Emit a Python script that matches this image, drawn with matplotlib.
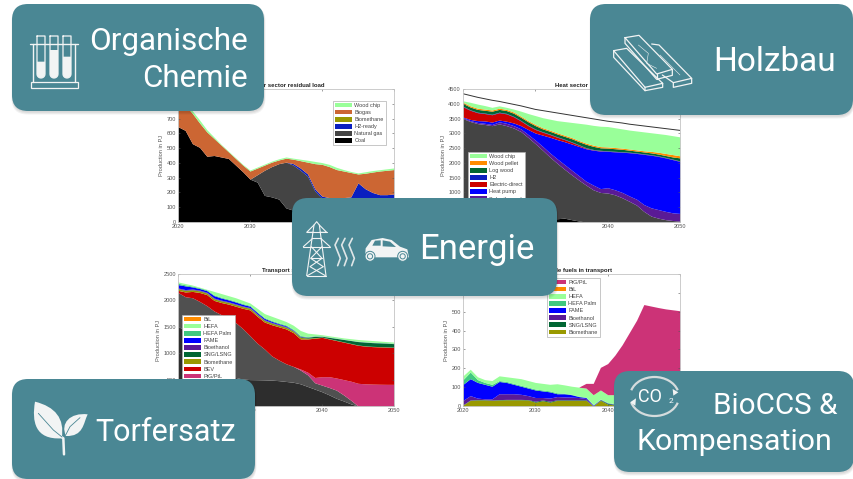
import numpy as np
import matplotlib
matplotlib.use('Agg')
import matplotlib.pyplot as plt
from matplotlib.patches import FancyBboxPatch, Patch, Polygon, Circle, Arc, PathPatch
from matplotlib.path import Path

plt.rcParams['font.family'] = ['Liberation Sans', 'DejaVu Sans']

years = np.arange(2020, 2051)

# power sector, top edge of every stacked layer
pw_coal = [645,620,530,505,445,450,440,430,385,340,290,270,180,170,155,95,80,50,30,10,0,0,0,0,0,0,0,0,0,0,0]
pw_gas = [645,620,530,505,445,450,440,430,385,340,290,320,350,375,395,405,385,350,310,210,160,150,150,150,150,150,150,150,150,150,150]
pw_h2 = [645,620,530,505,445,450,440,430,385,340,290,320,350,375,395,405,395,365,325,225,175,165,165,165,170,265,225,200,185,185,190]
pw_biomethane = pw_h2
pw_biogas = [830,790,735,670,610,565,520,475,430,385,345,365,385,405,420,432,425,415,405,395,390,375,355,345,335,325,330,338,345,350,355]
pw_chip = [840,805,752,690,625,575,525,480,435,390,352,372,392,412,428,440,432,425,418,410,402,390,370,355,342,332,340,348,354,360,366]

# heat sector
ht_coal = [300,290,280,270,260,250,240,230,210,190,170,150,130,110,130,80,35,0,0,0,0,0,0,0,0,0,0,0,0,0,0]
ht_gas = [3500,3400,3330,3300,3260,3320,3260,3180,3060,2860,2650,2430,2200,1990,1790,1600,1420,1250,1090,1000,980,920,820,700,570,360,200,130,80,50,30]
ht_solar = [3530,3430,3370,3340,3300,3390,3340,3260,3150,2960,2770,2560,2340,2140,1950,1760,1570,1380,1250,1130,1160,1090,1000,880,770,590,480,420,360,310,290]
ht_pump = [3550,3470,3430,3420,3380,3450,3410,3350,3260,3130,3010,2940,2870,2790,2720,2640,2560,2480,2430,2400,2390,2375,2360,2345,2320,2290,2260,2220,2170,2110,2050]
ht_electric = [3900,3780,3700,3670,3630,3700,3660,3560,3420,3260,3130,3040,2960,2870,2790,2700,2600,2500,2440,2410,2395,2380,2365,2350,2325,2295,2265,2225,2175,2115,2055]
ht_h2 = [3915,3795,3715,3685,3645,3715,3675,3575,3435,3275,3145,3055,2975,2885,2805,2715,2615,2515,2455,2425,2410,2392,2377,2362,2337,2307,2277,2237,2187,2127,2067]
ht_log = [4010,3890,3810,3780,3750,3810,3770,3680,3540,3390,3260,3150,3070,2980,2900,2820,2720,2630,2560,2510,2500,2480,2460,2430,2400,2370,2340,2300,2250,2200,2170]
ht_pellet = [4050,3930,3850,3820,3790,3850,3810,3720,3580,3430,3300,3190,3110,3020,2940,2860,2760,2670,2600,2550,2540,2520,2500,2470,2440,2410,2390,2360,2320,2280,2240]
ht_chip = [4100,4050,3990,3940,3880,3930,3880,3820,3750,3670,3600,3530,3480,3430,3400,3370,3340,3310,3270,3240,3230,3190,3150,3110,3080,3050,3020,2990,2960,2920,2880]
ht_total = [4340,4280,4220,4170,4120,4080,4030,3980,3930,3870,3810,3770,3730,3690,3650,3610,3570,3530,3490,3450,3410,3380,3350,3310,3280,3250,3220,3190,3160,3130,3100]

# transport sector
tr_dark = [1500,1450,1300,1150,1000,850,700,600,540,510,500,498,495,490,480,465,450,420,370,320,270,210,145,95,40,0,0,0,0,0,0]
tr_gray = [2150,2070,2050,1980,1900,1800,1730,1650,1580,1465,1330,1190,1080,950,870,800,750,680,590,440,395,350,300,210,110,0,0,0,0,0,0]
tr_ptg = [2150,2070,2050,1980,1900,1800,1730,1650,1580,1465,1330,1190,1080,950,870,800,750,700,640,540,555,555,530,500,470,430,420,415,412,410,410]
tr_bev = [2190,2160,2170,2150,2110,2000,1960,1930,1890,1850,1820,1700,1590,1540,1500,1460,1390,1270,1270,1285,1300,1270,1240,1210,1180,1150,1135,1125,1120,1115,1110]
tr_biomethane = [2220,2190,2200,2180,2140,2030,1990,1960,1920,1880,1850,1730,1620,1570,1530,1490,1420,1300,1285,1295,1305,1275,1245,1215,1185,1155,1140,1130,1125,1120,1115]
tr_sng = [2225,2195,2205,2185,2145,2035,1995,1965,1925,1885,1855,1735,1625,1575,1535,1495,1425,1310,1300,1320,1320,1300,1280,1260,1240,1220,1210,1200,1195,1190,1180]
tr_ethanol = [2235,2205,2215,2195,2155,2045,2005,1975,1935,1895,1865,1745,1635,1585,1545,1505,1432,1315,1302,1321,1321,1301,1281,1261,1241,1221,1211,1201,1196,1191,1181]
tr_fame = [2300,2275,2255,2225,2185,2090,2045,2010,1970,1925,1890,1770,1660,1605,1560,1520,1440,1320,1305,1322,1322,1302,1282,1262,1242,1222,1212,1202,1197,1192,1182]
tr_palm = [2325,2295,2270,2240,2200,2105,2060,2025,1985,1940,1905,1785,1675,1620,1575,1535,1455,1335,1315,1330,1328,1307,1287,1267,1247,1227,1217,1207,1202,1197,1187]
tr_hefa = [2350,2320,2290,2250,2210,2170,2130,2090,2050,2000,1950,1850,1750,1700,1650,1600,1530,1430,1380,1365,1350,1330,1310,1290,1275,1260,1250,1240,1230,1220,1210]
tr_btl = tr_hefa

# renewable fuels in transport
fu_biomethane = [5,30,32,32,30,32,33,33,33,32,20,28,20,30,30,30,30,30,0,30,10,5,8,10,10,10,10,10,10,10,10]
fu_sng = [7,32,34,34,32,34,35,35,35,34,25,32,25,33,33,33,33,33,1,33,14,8,10,12,12,12,12,12,12,12,12]
fu_ethanol = [30,55,42,38,38,65,65,65,62,55,45,45,42,50,48,47,45,40,2,34,15,9,11,13,13,13,13,13,13,13,13]
fu_fame = [115,145,125,115,105,130,125,115,105,95,85,80,75,65,65,60,50,45,5,35,16,10,12,14,14,14,14,14,14,14,14]
fu_palm = [140,180,140,125,115,135,130,120,110,100,90,85,80,70,68,62,52,47,6,37,18,12,14,16,16,16,16,16,16,16,16]
fu_hefa = [160,195,155,140,135,160,155,150,145,135,125,120,115,118,112,105,100,95,60,85,60,60,60,60,60,60,60,60,60,60,60]
fu_btl = fu_hefa
fu_ptg = [160,195,155,140,135,160,155,150,145,135,125,120,115,118,112,105,100,120,120,205,225,270,325,390,455,538,530,522,515,510,505]

CHIP = '#99ff99'
ORANGE = '#ff8c00'
DGREEN = '#006633'
BLUE = '#0000ff'
DBLUE = '#0a1fbf'
RED = '#cc0000'
PURPLE = '#5a1a96'
OLIVE = '#999900'
PINK = '#cc3377'
GAS = '#444444'
TEAL = '#4a8794'
WHITE = '#f2f4f4'

W, H = 854, 479
fig = plt.figure(figsize=(W / 100, H / 100), dpi=100)


def make_axes(left, top, right, bottom, ymax, yticks, title):
    ax = fig.add_axes([left / W, 1 - bottom / H, (right - left) / W, (bottom - top) / H])
    ax.set_xlim(2020, 2050)
    ax.set_ylim(0, ymax)
    ax.set_xticks([2020, 2030, 2040, 2050])
    ax.set_yticks(yticks)
    ax.tick_params(labelsize=4.1, colors='#555555', direction='in', length=1.5, width=0.4,
                   top=True, right=True, pad=1.5)
    for s in ax.spines.values():
        s.set_color('#c4c4c4')
        s.set_linewidth(0.6)
    ax.set_ylabel('Production in PJ', fontsize=4.1, color='#555555', labelpad=2)
    ax.set_title(title, fontsize=4.3, fontweight='bold', color='#222222', pad=1.5)
    return ax


def stack(ax, layers):
    low = np.zeros(len(years))
    for name, col, top in layers:
        top = np.array(top, dtype=float)
        ax.fill_between(years, low, top, color=col, lw=0)
        low = top


def legend(ax, layers, x, y):
    handles = [Patch(facecolor=c, edgecolor='none', label=n) for n, c, t in layers]
    ax.legend(handles=handles, loc='upper left', bbox_to_anchor=(x / W, 1 - y / H),
              bbox_transform=fig.transFigure, fontsize=4, frameon=True, fancybox=False,
              framealpha=1, edgecolor='#b0b0b0', borderaxespad=0, borderpad=0.35,
              handlelength=3.1, handleheight=0.85, handletextpad=0.4, labelspacing=0.35,
              labelcolor='#444444').get_frame().set_linewidth(0.5)


ax1 = make_axes(178, 89, 394, 222, 900, range(0, 901, 100), 'Power sector residual load')
power = [('Coal', '#000000', pw_coal), ('Natural gas', GAS, pw_gas), ('H2-ready', DBLUE, pw_h2),
         ('Biomethane', OLIVE, pw_biomethane), ('Biogas', '#cc6633', pw_biogas), ('Wood chip', CHIP, pw_chip)]
stack(ax1, power)
legend(ax1, power[::-1], 333, 101)

ax2 = make_axes(463, 89, 680, 222, 4500, range(0, 4501, 500), 'Heat sector')
heat = [('Coal', '#000000', ht_coal), ('Natural gas', GAS, ht_gas), ('Solar thermal', PURPLE, ht_solar),
        ('Heat pump', BLUE, ht_pump), ('Electric-direct', RED, ht_electric), ('H2', DBLUE, ht_h2),
        ('Log wood', DGREEN, ht_log), ('Wood pellet', ORANGE, ht_pellet), ('Wood chip', CHIP, ht_chip)]
stack(ax2, heat)
ax2.plot(years, ht_total, color='#333333', lw=0.7)
legend(ax2, heat[::-1], 468, 152)

ax3 = make_axes(178, 274, 394, 406, 2500, range(0, 2501, 500), 'Transport sector')
transport = [('Gasoline', '#2d2d2d', tr_dark), ('Diesel', '#505050', tr_gray), ('PtG/PtL', PINK, tr_ptg),
             ('BEV', RED, tr_bev), ('Biomethane', OLIVE, tr_biomethane), ('SNG/LSNG', DGREEN, tr_sng),
             ('Bioethanol', PURPLE, tr_ethanol), ('FAME', BLUE, tr_fame), ('HEFA Palm', '#40c880', tr_palm),
             ('HEFA', CHIP, tr_hefa), ('BtL', ORANGE, tr_btl)]
stack(ax3, transport)
legend(ax3, transport[::-1], 182, 315)

ax4 = make_axes(463, 274, 680, 406, 700, range(0, 701, 100), 'Renewable fuels in transport')
fuels = [('Biomethane', OLIVE, fu_biomethane), ('SNG/LSNG', DGREEN, fu_sng), ('Bioethanol', PURPLE, fu_ethanol),
         ('FAME', BLUE, fu_fame), ('HEFA Palm', '#40c880', fu_palm), ('HEFA', CHIP, fu_hefa),
         ('BtL', ORANGE, fu_btl), ('PtG/PtL', PINK, fu_ptg)]
stack(ax4, fuels)
legend(ax4, [fuels[7], fuels[6], fuels[5], fuels[4], fuels[3], fuels[2], fuels[1], fuels[0]], 547, 278)

# overlay in pixel coordinates for the teal boxes
ov = fig.add_axes([0, 0, 1, 1], zorder=10)
ov.set_xlim(0, W)
ov.set_ylim(H, 0)
ov.axis('off')
ov.patch.set_alpha(0)


def box(x0, y0, x1, y1):
    for i in range(3):
        ov.add_patch(FancyBboxPatch((x0 + 0.5 - i * 0.5, y0 + 1.5), x1 - x0 + i, y1 - y0 + i,
                                    boxstyle='round,pad=0,rounding_size=16', fc='black', ec='none', alpha=0.05))
    ov.add_patch(FancyBboxPatch((x0, y0), x1 - x0, y1 - y0, boxstyle='round,pad=0,rounding_size=16',
                                fc=TEAL, ec='none'))


def label(x, y, s, size, ha='left'):
    ov.text(x, y, s, color='white', fontsize=size, family='Roboto', ha=ha, va='baseline')


box(12, 4, 264, 111)
box(590, 4, 853, 115)
box(12, 379, 255, 479)
box(614, 371, 854, 472)
box(292, 198, 557, 296)

label(248, 50, 'Organische', 22.7, 'right')
label(248, 87, 'Chemie', 22.5, 'right')
label(836, 71, 'Holzbau', 24, 'right')
label(95, 441, 'Torfersatz', 22, 'left')
label(838, 414, 'BioCCS &', 21.3, 'right')
label(637, 450, 'Kompensation', 21.8, 'left')
label(419, 259, 'Energie', 25, 'left')


# icons, points given in the 3x zoom of each box
def line(pts, ox, oy, lw=1.0, col=WHITE):
    p = np.array(pts, dtype=float) / 3
    ov.plot(p[:, 0] + ox, p[:, 1] + oy, color=col, lw=lw, solid_capstyle='round', solid_joinstyle='round')


def poly(pts, ox, oy, fc=WHITE, ec='none', lw=0):
    p = np.array(pts, dtype=float) / 3 + [ox, oy]
    ov.add_patch(Polygon(p, closed=True, fc=fc, ec=ec, lw=lw))


# test tubes
poly([(92, 247), (234, 247), (234, 264), (92, 264)], 0, 0, fc='none', ec=WHITE, lw=0.9)
line([(90, 133), (234, 133)], 0, 0, 1.0)
line([(100, 133), (100, 247)], 0, 0, 1.0)
line([(226, 133), (226, 247)], 0, 0, 1.0)
for tx, fill in [(123, 185), (162, 150), (201, 170)]:
    t = np.linspace(np.pi, 0, 12)
    bottom = [(tx + 12 * np.cos(a), 222 + 12 * np.sin(a)) for a in t]
    poly([(tx - 12, fill)] + bottom + [(tx + 12, fill)], 0, 0)
    line([(tx - 12, 108)] + bottom + [(tx + 12, 108), (tx - 12, 108)], 0, 0, 0.9)

# wood boards
for pts in [[(86, 152), (125, 145), (233, 250), (180, 262), (180, 272), (233, 262), (233, 250)],
            [(86, 152), (180, 262)],
            [(86, 152), (86, 172), (180, 272)],
            [(120, 113), (162, 106), (262, 208), (215, 222), (120, 113)],
            [(120, 113), (120, 130), (215, 238), (262, 226), (262, 208)],
            [(215, 222), (215, 238)],
            [(200, 132), (222, 135), (320, 235), (265, 248), (232, 225)],
            [(265, 248), (265, 262), (320, 250), (320, 235)]]:
    line(pts, 585, 0, 0.9)
line([(160, 135), (190, 160), (185, 190), (215, 205)], 585, 0, 0.4)
line([(225, 165), (255, 195), (285, 225)], 585, 0, 0.4)

# leaves
leaf1 = Path(np.array([(105, 80), (95, 140), (105, 195), (185, 190), (195, 130), (165, 95), (105, 80)]) / 3 + [0, 375],
             [Path.MOVETO, Path.CURVE4, Path.CURVE4, Path.CURVE4, Path.CURVE4, Path.CURVE4, Path.CURVE4])
leaf2 = Path(np.array([(263, 118), (210, 112), (180, 145), (198, 183), (250, 185), (250, 145), (263, 118)]) / 3 + [0, 375],
             [Path.MOVETO, Path.CURVE4, Path.CURVE4, Path.CURVE4, Path.CURVE4, Path.CURVE4, Path.CURVE4])
ov.add_patch(PathPatch(leaf1, fc=WHITE, ec='none'))
ov.add_patch(PathPatch(leaf2, fc=WHITE, ec='none'))
line([(165, 172), (190, 190), (192, 238)], 0, 375, 1.8)
line([(115, 115), (160, 165), (186, 186)], 0, 375, 0.6, TEAL)
line([(240, 128), (210, 155), (197, 180)], 0, 375, 0.6, TEAL)

# power tower
for pts in [[(50, 242), (72, 90), (80, 80), (88, 90), (108, 242)],
            [(50, 242), (108, 242)],
            [(40, 155), (120, 155)],
            [(50, 112), (110, 112)],
            [(72, 90), (50, 112), (72, 112)],
            [(88, 90), (110, 112), (88, 112)],
            [(66, 130), (94, 130)],
            [(40, 155), (68, 130)],
            [(120, 155), (92, 130)],
            [(64, 155), (96, 190), (60, 215), (106, 242)],
            [(96, 155), (62, 190), (100, 215), (52, 242)],
            [(62, 190), (96, 190)]]:
    line(pts, 290, 195, 0.8)

# heat waves
for wx in [145, 165, 187]:
    line([(wx, 130), (wx - 10, 150), (wx - 2, 170), (wx + 6, 190), (wx - 2, 212)], 290, 195, 1.2, '#dfe6e7')

# car
poly([(225, 187), (227, 160), (245, 135), (278, 129), (305, 135), (330, 155), (352, 163), (357, 187)], 290, 195)
poly([(247, 152), (255, 137), (272, 136), (272, 152)], 290, 195, fc=TEAL)
poly([(278, 136), (300, 140), (318, 156), (278, 154)], 290, 195, fc=TEAL)
for cx, cy in [(240, 184), (338, 184)]:
    ov.add_patch(Circle((290 + cx / 3, 195 + cy / 3), 5, fc=WHITE, ec=TEAL, lw=0.7))
    ov.add_patch(Circle((290 + cx / 3, 195 + cy / 3), 2.6, fc=WHITE, ec=TEAL, lw=0.7))

# CO2 cycle
ov.text(649.5, 397, 'CO', color='white', fontsize=13, family='Roboto', ha='center', va='center')
ov.text(671, 401, '2', color='white', fontsize=6, family='Roboto', ha='center', va='center')
ov.add_patch(Arc((654.5, 396.5), 49, 39, theta1=195, theta2=345, color='#d5dcdd', lw=1.6))
ov.add_patch(Arc((654.5, 396.5), 49, 39, theta1=15, theta2=165, color='#d5dcdd', lw=1.6))
poly([(188, 72), (205, 82), (190, 92)], 610, 365)
poly([(78, 100), (60, 112), (76, 122)], 610, 365)

fig.savefig('out.png', dpi=100)
